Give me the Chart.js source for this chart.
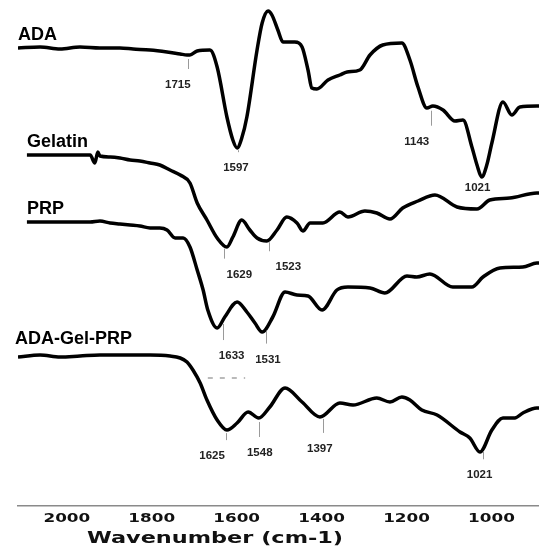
<!DOCTYPE html>
<html>
<head>
<meta charset="utf-8">
<script src="https://cdn.jsdelivr.net/npm/chart.js@4"></script>
<style>
  html, body { margin: 0; padding: 0; background: #fff; }
  #wrap { width: 539px; height: 546px; }
</style>
</head>
<body>
<div id="wrap"><canvas id="ftirChart" width="539" height="546"></canvas></div>
<script>
// wavenumber (cm-1) / offset transmittance (a.u.)
const adaWave = [2115, 2063, 2016, 1969, 1922, 1875, 1844, 1804, 1764, 1733, 1717, 1710, 1693, 1663, 1646, 1623, 1609, 1599, 1588, 1576, 1552, 1540, 1526, 1517, 1503, 1491, 1463, 1446, 1432, 1423, 1411, 1385, 1357, 1340, 1310, 1286, 1256, 1211, 1192, 1173, 1152, 1138, 1114, 1086, 1067, 1046, 1034, 1023, 1011, 999, 973, 952, 933, 893, 888];
const adaValues = [45.8, 45.9, 45.7, 45.9, 45.8, 45.8, 45.7, 45.6, 45.4, 45.2, 45.1, 45.1, 45.5, 45.6, 43.9, 38.9, 36.6, 35.8, 36.8, 38.9, 45.6, 48.3, 49.5, 49.1, 47.6, 46.4, 46.4, 45.9, 43.6, 41.8, 41.7, 42.6, 43.1, 43.4, 43.6, 45.1, 46.1, 46.3, 44.6, 41.9, 39.8, 40.0, 39.6, 38.5, 38.6, 35.9, 34.1, 32.9, 34.1, 36.3, 40.4, 39.1, 39.9, 40.0, 40.0];

const gelatinWave = [2094, 2016, 1945, 1934, 1927, 1922, 1898, 1875, 1851, 1828, 1804, 1781, 1757, 1733, 1710, 1693, 1670, 1646, 1623, 1609, 1588, 1569, 1552, 1529, 1505, 1482, 1458, 1444, 1427, 1397, 1357, 1338, 1298, 1270, 1239, 1209, 1173, 1133, 1081, 1034, 1004, 957, 893, 888];
const gelatinValues = [35.1, 35.1, 35.1, 34.3, 35.4, 35.0, 34.9, 34.8, 34.6, 34.5, 34.3, 34.1, 33.6, 33.1, 32.3, 30.3, 28.6, 26.8, 25.9, 26.9, 28.6, 27.6, 26.8, 26.5, 27.6, 28.9, 28.3, 27.5, 28.3, 28.3, 29.4, 28.9, 29.5, 29.3, 28.7, 29.8, 30.5, 31.1, 29.9, 29.7, 30.6, 30.8, 31.3, 31.3];

const prpWave = [2094, 2016, 1945, 1922, 1898, 1875, 1851, 1828, 1804, 1781, 1764, 1745, 1726, 1710, 1693, 1679, 1668, 1646, 1628, 1599, 1576, 1557, 1540, 1515, 1486, 1458, 1432, 1399, 1364, 1338, 1286, 1251, 1199, 1176, 1145, 1091, 1046, 1020, 980, 926, 893, 888];
const prpValues = [28.4, 28.4, 28.4, 28.5, 28.3, 28.2, 28.1, 28.0, 27.8, 27.8, 27.6, 26.8, 26.8, 25.9, 23.6, 21.6, 19.6, 17.8, 18.9, 20.4, 19.4, 18.3, 17.4, 18.9, 21.4, 21.1, 21.0, 19.6, 21.6, 21.9, 21.8, 21.3, 23.0, 22.9, 23.2, 21.9, 21.9, 22.9, 23.8, 23.9, 24.3, 24.3];

const blendWave = [2115, 2063, 2016, 1969, 1922, 1875, 1804, 1757, 1733, 1717, 1703, 1686, 1670, 1646, 1623, 1599, 1573, 1548, 1522, 1486, 1446, 1404, 1357, 1326, 1270, 1239, 1211, 1192, 1164, 1128, 1074, 1051, 1027, 999, 973, 945, 926, 893, 888];
const blendValues = [14.9, 15.1, 14.9, 15.0, 15.1, 15.1, 15.1, 15.0, 14.8, 14.4, 13.6, 12.3, 10.6, 8.6, 7.6, 8.3, 9.4, 8.8, 9.9, 11.8, 10.4, 8.9, 10.3, 10.1, 10.8, 10.4, 10.9, 10.6, 9.6, 9.1, 7.4, 6.8, 5.4, 7.6, 8.8, 8.8, 9.3, 9.8, 9.8];

// dashed guide under the blend curve
const guideWave = [1668, 1580];
const guideValues = [12.8, 12.8];

const seriesNames = ["ADA", "Gelatin", "PRP", "ADA-Gel-PRP"];
const peaks = [
    [1715, 1597, 1143, 1021],
    [1629, 1523],
    [1633, 1531],
    [1625, 1548, 1397, 1021]
];
const xTicks = [2000, 1800, 1600, 1400, 1200, 1000];

// label offsets (px) relative to the peak position on the curve
const peakShift = [
    [[-10, 30], [-2, 22], [-14, 35], [-5, 13]],
    [[15, 30], [19, 29]],
    [[9, 36], [2, 33]],
    [[-14, 27], [1, 35], [-3, 34], [-3, 28]]
];

function toPoints(xs, ys) {
    return xs.map((x, i) => ({ x: x, y: ys[i] }));
}

function yAt(meta, px) {
    const pts = meta.data;
    for (let i = 0; i < pts.length - 1; i++) {
        const a = pts[i], b = pts[i + 1];
        const lo = Math.min(a.x, b.x), hi = Math.max(a.x, b.x);
        if (px >= lo && px <= hi) {
            const t = hi === lo ? 0 : (px - a.x) / (b.x - a.x);
            return a.y + t * (b.y - a.y);
        }
    }
    return pts[pts.length - 1].y;
}

function stretchText(ctx, text, x, y, sx, align) {
    ctx.save();
    ctx.translate(x, y);
    ctx.scale(sx, 1);
    ctx.textAlign = align;
    ctx.fillText(text, 0, 0);
    ctx.restore();
}

const annotate = {
    id: "annotate",
    afterDatasetsDraw(chart) {
        const ctx = chart.ctx;
        const xs = chart.scales.x;
        const area = chart.chartArea;

        for (let s = 0; s < 4; s++) {
            const meta = chart.getDatasetMeta(s);
            const first = meta.data[0];

            // series name above the start of each trace
            ctx.save();
            ctx.fillStyle = "#000";
            ctx.font = "bold 18px 'Liberation Sans', Arial, sans-serif";
            ctx.textAlign = "left";
            ctx.textBaseline = "alphabetic";
            const nx = s === 3 ? first.x - 3 : first.x;
            const ny = first.y - (s === 3 ? 13 : 8);
            ctx.fillText(seriesNames[s], nx, ny);
            ctx.restore();

            // peak markers
            peaks[s].forEach((w, i) => {
                const px = xs.getPixelForValue(w);
                const py = yAt(meta, px);
                const [dx, dy] = peakShift[s][i];
                const ly = py + dy;
                ctx.save();
                ctx.strokeStyle = "#9a9a9a";
                ctx.lineWidth = 1;
                if (ly - 16 > py + 4) {
                    ctx.beginPath();
                    ctx.moveTo(Math.round(px) + 0.5, py + 4);
                    ctx.lineTo(Math.round(px) + 0.5, ly - 16);
                    ctx.stroke();
                }
                ctx.fillStyle = "#222";
                ctx.font = "bold 11.5px 'Liberation Sans', Arial, sans-serif";
                ctx.textAlign = "center";
                ctx.textBaseline = "middle";
                ctx.fillText(String(w), px + dx, ly);
                ctx.restore();
            });
        }

        // axis tick labels and title, wide bold type
        ctx.save();
        ctx.fillStyle = "#111";
        ctx.font = "bold 12px 'DejaVu Sans', sans-serif";
        ctx.textBaseline = "alphabetic";
        xTicks.forEach(t => {
            stretchText(ctx, String(t), xs.getPixelForValue(t), area.bottom + 16, 1.4, "center");
        });
        ctx.font = "bold 16px 'DejaVu Sans', sans-serif";
        stretchText(ctx, "Wavenumber (cm-1)", area.left + 69, area.bottom + 37, 1.4, "left");
        ctx.restore();
    }
};

const lineStyle = {
    borderColor: "#000",
    borderWidth: 3.5,
    pointRadius: 0,
    fill: false,
    cubicInterpolationMode: "monotone"
};

new Chart(document.getElementById("ftirChart").getContext("2d"), {
    type: "line",
    data: {
        datasets: [
            Object.assign({ label: seriesNames[0], data: toPoints(adaWave, adaValues) }, lineStyle),
            Object.assign({ label: seriesNames[1], data: toPoints(gelatinWave, gelatinValues) }, lineStyle),
            Object.assign({ label: seriesNames[2], data: toPoints(prpWave, prpValues) }, lineStyle),
            Object.assign({ label: seriesNames[3], data: toPoints(blendWave, blendValues) }, lineStyle),
            {
                label: "guide",
                data: toPoints(guideWave, guideValues),
                borderColor: "#777",
                borderWidth: 1.2,
                borderDash: [5, 7],
                pointRadius: 0,
                fill: false
            }
        ]
    },
    options: {
        responsive: false,
        animation: false,
        layout: { padding: { left: 18, right: 0, top: 0, bottom: 40 } },
        plugins: { legend: { display: false }, tooltip: { enabled: false } },
        scales: {
            x: {
                type: "linear",
                reverse: true,
                min: 888,
                max: 2115,
                grid: { display: false, drawTicks: false },
                border: { display: true, color: "#8a8a8a", width: 1.5 },
                ticks: { display: false }
            },
            y: {
                type: "linear",
                min: 0,
                max: 50.6,
                display: false
            }
        }
    },
    plugins: [annotate]
});
</script>
</body>
</html>
